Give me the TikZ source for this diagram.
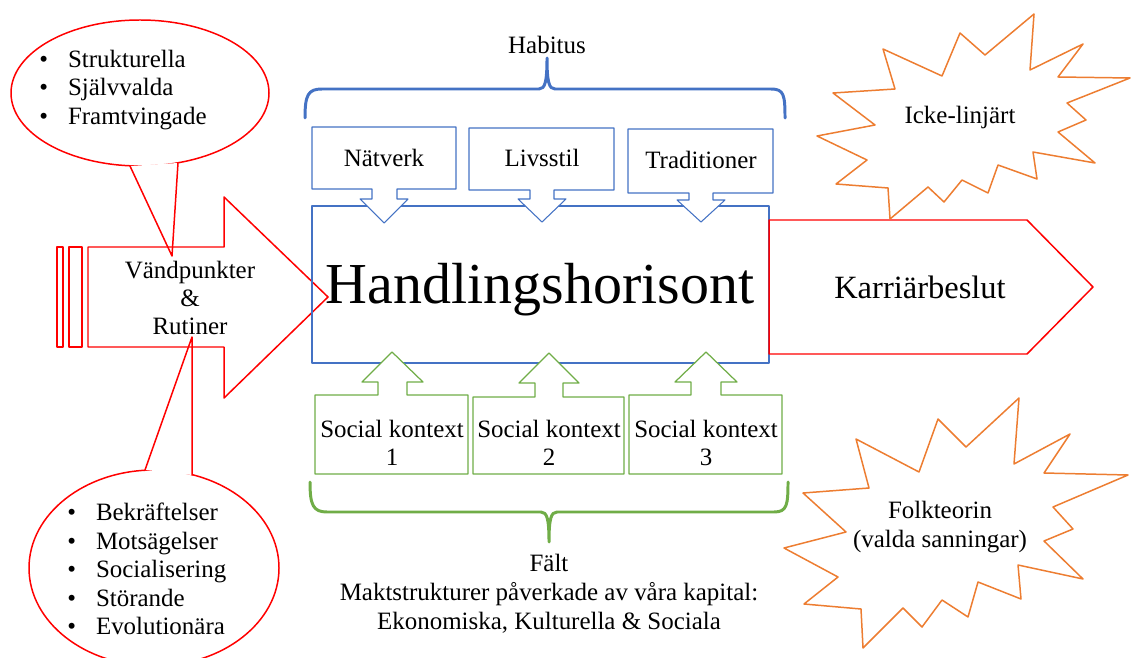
\documentclass[tikz,border=0pt]{standalone}
\usepackage{fontspec}
\setmainfont{Liberation Serif}
\definecolor{habblue}{HTML}{4472C4}
\definecolor{faltgreen}{HTML}{70AD47}
\definecolor{burstorange}{HTML}{ED7D31}
\definecolor{turnred}{HTML}{FF0000}
\newcommand{\blt}{\makebox[1.15em][l]{\textbullet}}
\tikzset{
  txt/.style={inner sep=0pt,align=center,font=\fontsize{14.2}{16.2}\selectfont},
  redline/.style={draw=turnred,line width=0.85pt},
  blueline/.style={draw=habblue,line width=0.6pt},
  greenline/.style={draw=faltgreen,line width=0.7pt},
  burst/.style={draw=burstorange,line width=0.85pt,fill=white},
  bracket/.style={line width=1.7pt}
}
\begin{document}
\begin{tikzpicture}[x=0.02cm,y=-0.02cm,line cap=round,line join=round]
  \useasboundingbox (0,0) rectangle (1131,658);
  % speech bubbles
  \draw[redline,fill=white] (140,93) ellipse (129 and 73);
  \fill[white] (130,166) -- (172,256) -- (178,163) -- cycle;
  \draw[redline] (130,166) -- (172,256) -- (178,163);
  \draw[redline,fill=white] (154,568) ellipse (125 and 98);
  \fill[white] (145,470) -- (192,337) -- (192,475) -- cycle;
  \draw[redline] (145,470) -- (192,337) -- (192,475);
  % big arrow
  \draw[redline] (57,247) rectangle (63,347);
  \draw[redline] (69,247) rectangle (82,347);
  \draw[redline] (88,247) -- (224,247) -- (224,197) -- (328,297) -- (224,398)
    -- (224,347) -- (88,347) -- cycle;
  % main box
  \draw[blueline] (312,206) rectangle (769,363);
  % habitus callouts
  \draw[blueline,fill=white] (312,127) -- (456,127) -- (456,189) -- (397,189) -- (397,199)
    -- (408,199) -- (384,223) -- (360,199) -- (372,199) -- (372,189) -- (312,189) -- cycle;
  \draw[blueline,fill=white] (469,128) -- (614,128) -- (614,190) -- (554,190) -- (554,199)
    -- (566,199) -- (542,222) -- (518,199) -- (530,199) -- (530,190) -- (469,190) -- cycle;
  \draw[blueline,fill=white] (628,129) -- (773,129) -- (773,193) -- (713,193) -- (713,200)
    -- (725,200) -- (701,222) -- (677,200) -- (689,200) -- (689,193) -- (628,193) -- cycle;
  % field callouts
  \draw[greenline,fill=white] (315,474) -- (315,395) -- (378,395) -- (378,382) -- (362,382)
    -- (392,352) -- (423,382) -- (407,382) -- (407,395) -- (468,395) -- (468,474) -- cycle;
  \draw[greenline,fill=white] (473,474) -- (473,397) -- (535,397) -- (535,383) -- (519,383)
    -- (549,353) -- (579,383) -- (563,383) -- (563,397) -- (624,397) -- (624,474) -- cycle;
  \draw[greenline,fill=white] (629,474) -- (629,395) -- (691,395) -- (691,382) -- (675,382)
    -- (706,352) -- (737,382) -- (721,382) -- (721,395) -- (782,395) -- (782,474) -- cycle;
  % braces
  \draw[bracket,habblue] (305,118) .. controls (305,95) and (308,89) .. (322,89) -- (539,89)
    .. controls (545,89) and (547,82) .. (547,58) .. controls (547,82) and (549,89) .. (555,89)
    -- (771,89) .. controls (784,89) and (785,95) .. (785,118);
  \draw[bracket,faltgreen] (310,482) .. controls (310,505) and (313,512) .. (327,512) -- (541,512)
    .. controls (547,512) and (549,519) .. (549,542) .. controls (549,519) and (551,512) .. (557,512)
    -- (774,512) .. controls (787,512) and (788,505) .. (788,482);
  % decision arrow
  \draw[redline] (769,220) -- (1027,220) -- (1093,287) -- (1027,354) -- (769,354) -- cycle;
  % bursts
  \draw[burst] (883,49) -- (942,76) -- (960,33) -- (985,55) -- (1034,14) -- (1030,70)
    -- (1083,44) -- (1058,77) -- (1130,78) -- (1067,103) -- (1086,120) -- (1058,132)
    -- (1095,163) -- (1033,152) -- (1037,179) -- (998,165) -- (988,193) -- (962,180)
    -- (944,202) -- (928,187) -- (890,219) -- (888,188) -- (836,184) -- (867,160)
    -- (817,136) -- (875,125) -- (833,93) -- (895,89) -- cycle;
  \draw[burst] (856,439) -- (919,472) -- (938,419) -- (966,447) -- (1019,398) -- (1014,464)
    -- (1070,434) -- (1044,473) -- (1128,475) -- (1053,507) -- (1073,529) -- (1044,541)
    -- (1083,579) -- (1018,565) -- (1021,599) -- (978,582) -- (968,617) -- (942,600)
    -- (922,627) -- (903,608) -- (863,648) -- (861,609) -- (804,604) -- (838,577)
    -- (784,548) -- (846,532) -- (803,493) -- (869,488) -- cycle;
  % texts
  \node[txt,anchor=west,align=left] (valjlist) at (39,90)
    {\blt Strukturella\\ \blt Självvalda\\ \blt Framtvingade};
  \node[txt,anchor=west,align=left] (moteslist) at (67,569)
    {\blt Bekräftelser\\ \blt Motsägelser\\ \blt Socialisering\\ \blt Störande\\ \blt Evolutionära};
  \node[txt] (vandpunkt) at (190,298) {Vändpunkter\\ \&\\ Rutiner};
  \node[txt] (habitus) at (547,45) {Habitus};
  \node[txt] (natverk) at (384,158) {Nätverk};
  \node[txt] (livsstil) at (542,158) {Livsstil};
  \node[txt] (tradition) at (701,160) {Traditioner};
  \node[txt,font=\fontsize{33}{39}\selectfont] (horisont) at (540,290) {Handlingshorisont};
  \node[txt] (kontextA) at (392,443) {Social kontext\\ 1};
  \node[txt] (kontextB) at (549,443) {Social kontext\\ 2};
  \node[txt] (kontextC) at (706,443) {Social kontext\\ 3};
  \node[txt,font=\fontsize{14.2}{16.5}\selectfont] (falt) at (549,594)
    {Fält\\ Maktstrukturer påverkade av våra kapital:\\ Ekonomiska, Kulturella \& Sociala};
  \node[txt,font=\fontsize{18.5}{22}\selectfont] (beslut) at (920,287) {Karriärbeslut};
  \node[txt] (ickelinj) at (960,118) {Icke-linjärt};
  \node[txt] (folkteori) at (940,527) {Folkteorin\\ (valda sanningar)};
\end{tikzpicture}
\end{document}
